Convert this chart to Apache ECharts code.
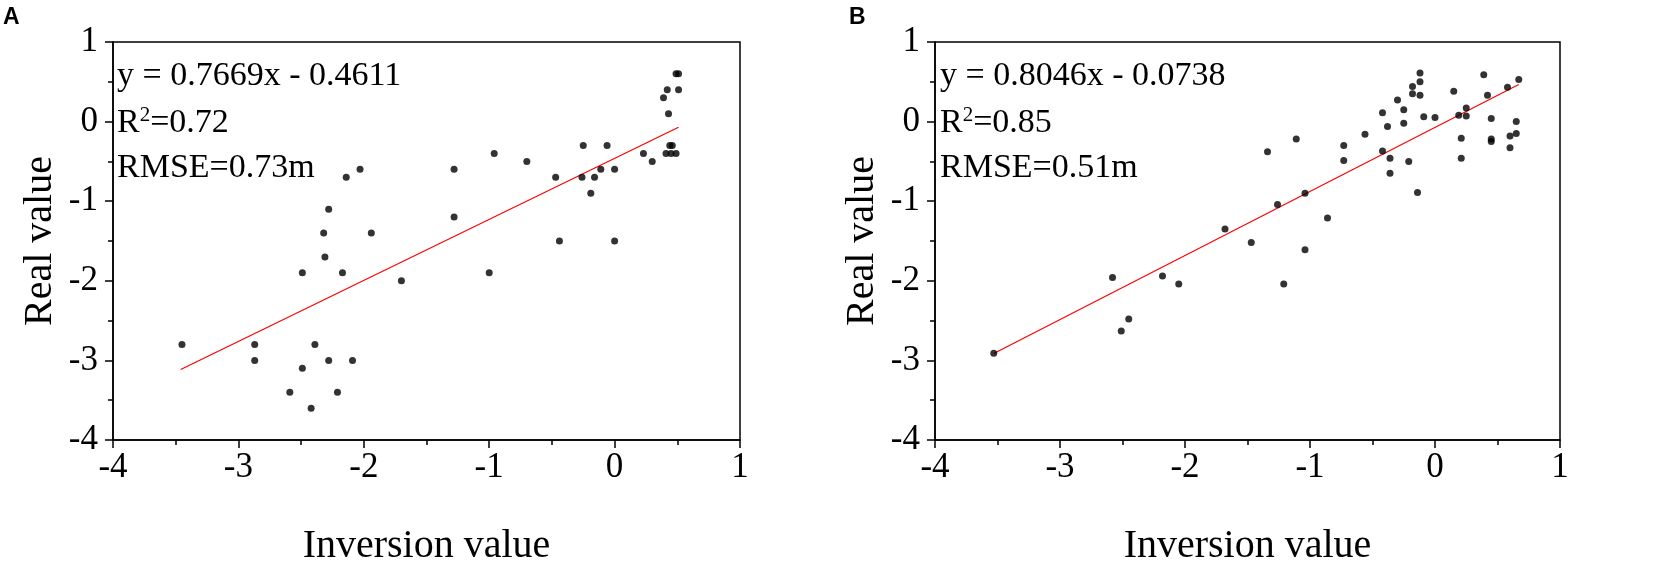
<!DOCTYPE html>
<html>
<head>
<meta charset="utf-8">
<script src="https://cdn.jsdelivr.net/npm/echarts@6/dist/echarts.min.js"></script>
<style>
  html, body { margin: 0; padding: 0; background: #fff; }
  #chart { width: 1676px; height: 579px; }
</style>
</head>
<body>
<div id="chart"></div>
<script>
// panel A: inversion value (x) vs real value (y)
var pointsA = [
  [-3.45, -2.8], [-2.87, -2.8], [-2.87, -3.0], [-2.59, -3.4], [-2.49, -1.9],
  [-2.49, -3.1], [-2.42, -3.6], [-2.39, -2.8], [-2.32, -1.4], [-2.31, -1.7],
  [-2.28, -3.0], [-2.28, -1.1], [-2.21, -3.4], [-2.17, -1.9], [-2.14, -0.7],
  [-2.09, -3.0], [-2.03, -0.6], [-1.94, -1.4], [-1.70, -2.0], [-1.28, -0.6],
  [-1.28, -1.2], [-1.00, -1.9], [-0.96, -0.4], [-0.70, -0.5], [-0.47, -0.7],
  [-0.44, -1.5], [-0.26, -0.7], [-0.25, -0.3], [-0.19, -0.9], [-0.16, -0.7],
  [-0.11, -0.6], [-0.06, -0.3], [0.00, -0.6], [0.00, -1.5], [0.23, -0.4],
  [0.30, -0.5], [0.39, 0.3], [0.42, 0.4], [0.43, 0.1], [0.41, -0.4],
  [0.45, -0.4], [0.49, -0.4], [0.44, -0.3], [0.46, -0.3], [0.49, 0.6],
  [0.51, 0.6], [0.51, 0.4]
];
var fitA = [[-3.46, -3.114], [0.51, -0.070]];
var textA = ['y = 0.7669x - 0.4611', '0.72', '0.73m'];

// panel B
var pointsB = [
  [-3.53, -2.91], [-2.58, -1.96], [-2.51, -2.63], [-2.45, -2.48], [-2.18, -1.94],
  [-2.05, -2.04], [-1.68, -1.35], [-1.47, -1.52], [-1.34, -0.38], [-1.26, -1.04],
  [-1.21, -2.04], [-1.11, -0.22], [-1.04, -1.61], [-1.04, -0.90], [-0.86, -1.21],
  [-0.73, -0.30], [-0.73, -0.49], [-0.56, -0.16], [-0.42, 0.11], [-0.42, -0.37],
  [-0.38, -0.06], [-0.36, -0.46], [-0.36, -0.65], [-0.30, 0.27], [-0.25, 0.15],
  [-0.25, -0.02], [-0.21, -0.50], [-0.18, 0.44], [-0.18, 0.35], [-0.14, -0.89],
  [-0.12, 0.61], [-0.12, 0.50], [-0.12, 0.33], [-0.09, 0.06], [0.00, 0.05],
  [0.15, 0.38], [0.19, 0.08], [0.25, 0.17], [0.25, 0.07], [0.21, -0.21],
  [0.21, -0.46], [0.39, 0.59], [0.42, 0.33], [0.45, 0.04], [0.45, -0.22],
  [0.45, -0.25], [0.58, 0.43], [0.60, -0.18], [0.60, -0.33], [0.65, 0.00],
  [0.65, -0.15], [0.67, 0.53]
];
var fitB = [[-3.53, -2.914], [0.67, 0.465]];
var textB = ['y = 0.8046x - 0.0738', '0.85', '0.51m'];

var axisMin = -4, axisMax = 1, axisStep = 1;
var xName = 'Inversion value', yName = 'Real value';
var panelNames = ['A', 'B'];

var SERIF = '"Liberation Serif", "Times New Roman", serif';
var SANS = '"Liberation Sans", Arial, sans-serif';

function xAxisFor(idx) {
  return {
    gridIndex: idx, type: 'value', min: axisMin, max: axisMax, interval: axisStep,
    name: xName, nameLocation: 'middle', nameGap: 86,
    nameTextStyle: { fontFamily: SERIF, fontSize: 40, color: '#000' },
    axisLine: { onZero: false, lineStyle: { color: '#000', width: 1.5 } },
    axisTick: { inside: false, length: 8, lineStyle: { color: '#000', width: 1.5 } },
    minorTick: { show: true, splitNumber: 2, length: 5, lineStyle: { color: '#000', width: 1.5 } },
    axisLabel: { fontFamily: SERIF, fontSize: 35, color: '#000', margin: 10 },
    splitLine: { show: false }
  };
}
function yAxisFor(idx) {
  return {
    gridIndex: idx, type: 'value', min: axisMin, max: axisMax, interval: axisStep,
    name: yName, nameLocation: 'middle', nameGap: 53,
    nameTextStyle: { fontFamily: SERIF, fontSize: 40, color: '#000' },
    axisLine: { onZero: false, lineStyle: { color: '#000', width: 1.5 } },
    axisTick: { inside: false, length: 8, lineStyle: { color: '#000', width: 1.5 } },
    minorTick: { show: true, splitNumber: 2, length: 5, lineStyle: { color: '#000', width: 1.5 } },
    axisLabel: { fontFamily: SERIF, fontSize: 35, color: '#000', margin: 15 },
    splitLine: { show: false }
  };
}

// the three annotation lines in the top-left corner of each panel
function annot(left, lines) {
  var base = { fontFamily: SERIF, fontSize: 34, fill: '#000', verticalAlign: 'middle' };
  return [
    { type: 'text', x: left, y: 76, style: Object.assign({ text: lines[0] }, base) },
    { type: 'text', x: left, y: 123, style: Object.assign({
        text: 'R{sup|2}=' + lines[1],
        rich: { sup: { fontFamily: SERIF, fontSize: 21, padding: [0, 0, 15, 0] } }
      }, base) },
    { type: 'text', x: left, y: 168, style: Object.assign({ text: 'RMSE=' + lines[2] }, base) }
  ];
}

var chart = echarts.init(document.getElementById('chart'), null, { renderer: 'canvas' });
var option = {
  animation: false,
  backgroundColor: '#fff',
  grid: [
    { left: 113, right: 1676 - 740, top: 42, bottom: 579 - 440, show: true, borderColor: '#000', borderWidth: 1.5 },
    { left: 935, right: 1676 - 1560, top: 42, bottom: 579 - 440, show: true, borderColor: '#000', borderWidth: 1.5 }
  ],
  xAxis: [xAxisFor(0), xAxisFor(1)],
  yAxis: [yAxisFor(0), yAxisFor(1)],
  series: [
    { type: 'scatter', xAxisIndex: 0, yAxisIndex: 0, data: pointsA, symbolSize: 7,
      itemStyle: { color: '#000' }, z: 3 },
    { type: 'line', xAxisIndex: 0, yAxisIndex: 0, data: fitA, symbol: 'none',
      lineStyle: { color: '#ff0000', width: 1.2 }, z: 2 },
    { type: 'scatter', xAxisIndex: 1, yAxisIndex: 1, data: pointsB, symbolSize: 7,
      itemStyle: { color: '#000' }, z: 3 },
    { type: 'line', xAxisIndex: 1, yAxisIndex: 1, data: fitB, symbol: 'none',
      lineStyle: { color: '#ff0000', width: 1.2 }, z: 2 }
  ],
  graphic: [
    { type: 'text', x: 3, y: 6, style: { text: panelNames[0], fontFamily: SANS, fontWeight: 'bold', fontSize: 23, fill: '#000' } },
    { type: 'text', x: 849, y: 6, style: { text: panelNames[1], fontFamily: SANS, fontWeight: 'bold', fontSize: 23, fill: '#000' } }
  ].concat(annot(117, textA), annot(940, textB))
};
chart.setOption(option);
</script>
</body>
</html>
